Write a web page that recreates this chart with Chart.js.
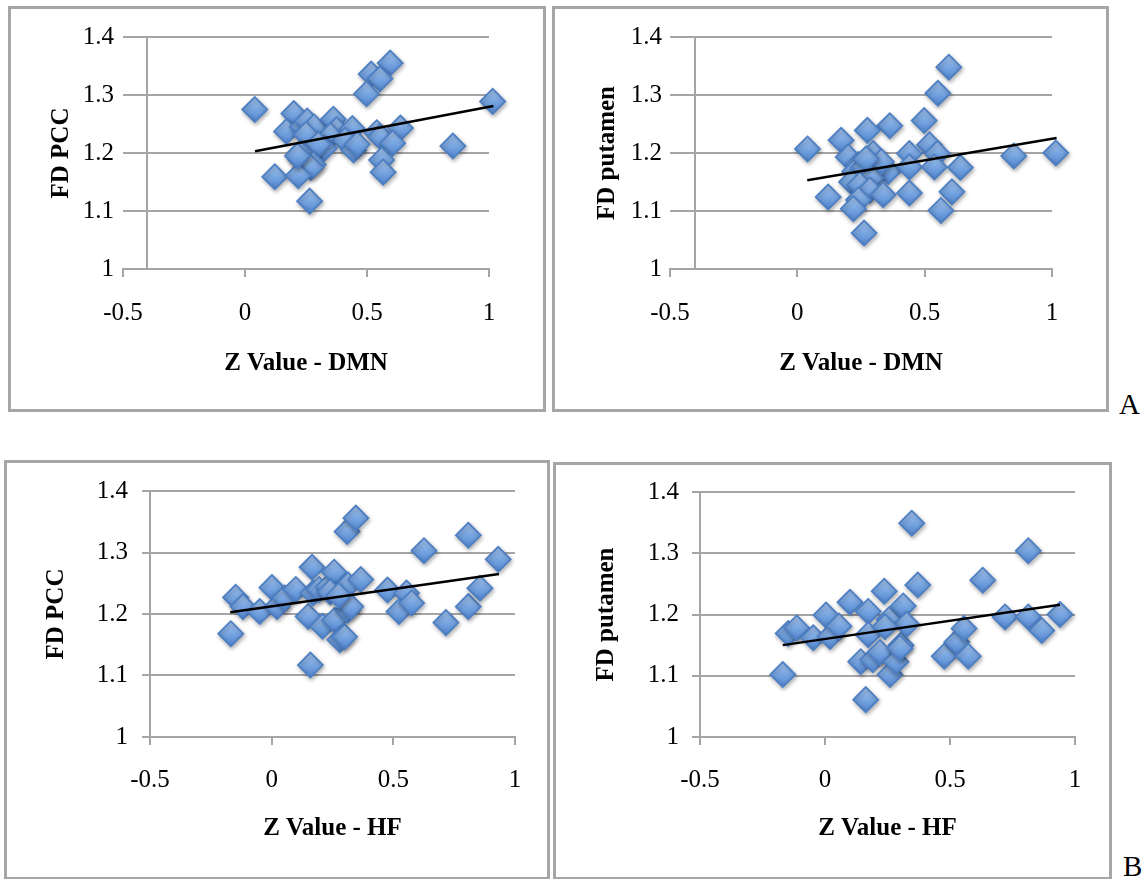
<!DOCTYPE html>
<html>
<head>
<meta charset="utf-8">
<script src="https://cdn.jsdelivr.net/npm/chart.js@4.4.1/dist/chart.umd.min.js"></script>
<style>
  html, body { margin: 0; padding: 0; background: #fff; }
  #page { position: relative; width: 1148px; height: 879px; overflow: hidden; }
  .frame { position: absolute; border: 3px solid #a6a6a6; box-sizing: border-box; pointer-events: none; }
  canvas { position: absolute; }
  .tag { position: absolute; font-family: 'Liberation Serif', serif; font-size: 29px; line-height: 29px; color: #000; }
</style>
</head>
<body>
<div id="page">
  <canvas id="pccDmnChart" width="536" height="404" style="left:9px;top:7px"></canvas>
  <canvas id="putDmnChart" width="555" height="404" style="left:553px;top:7px"></canvas>
  <canvas id="pccHfChart" width="544" height="418" style="left:5px;top:461px"></canvas>
  <canvas id="putHfChart" width="557" height="416" style="left:554px;top:463px"></canvas>

  <div class="frame" style="left:8px;top:6px;width:538px;height:406px"></div>
  <div class="frame" style="left:552px;top:6px;width:557px;height:406px"></div>
  <div class="frame" style="left:4px;top:460px;width:546px;height:420px"></div>
  <div class="frame" style="left:553px;top:462px;width:559px;height:418px"></div>

  <div class="tag" style="left:1119px;top:390px">A</div>
  <div class="tag" style="left:1123px;top:852px">B</div>
</div>

<script>
// axis ranges shared by all four panels
const xRange = [-0.5, 1];
const yRange = [1, 1.4];
const xStep = 0.5;
const yStep = 0.1;

// [Z value, FD] pairs
const pccDmn = [
  [0.04, 1.275], [1.015, 1.289], [0.595, 1.355], [0.517, 1.336], [0.553, 1.328], [0.498, 1.302],
  [0.200, 1.268], [0.170, 1.237], [0.235, 1.245], [0.255, 1.255], [0.283, 1.245], [0.250, 1.232],
  [0.362, 1.258], [0.375, 1.240], [0.350, 1.230], [0.440, 1.242], [0.410, 1.222], [0.540, 1.235],
  [0.555, 1.228], [0.637, 1.243], [0.605, 1.217], [0.852, 1.212], [0.445, 1.205], [0.325, 1.208],
  [0.300, 1.215], [0.225, 1.200], [0.230, 1.188], [0.280, 1.180], [0.270, 1.175], [0.560, 1.188],
  [0.566, 1.167], [0.122, 1.159], [0.218, 1.161], [0.265, 1.117], [0.215, 1.195], [0.460, 1.215]
];
const putDmn = [
  [0.04, 1.207], [1.015, 1.200], [0.850, 1.195], [0.595, 1.348], [0.552, 1.303], [0.498, 1.256],
  [0.363, 1.247], [0.275, 1.239], [0.172, 1.222], [0.519, 1.214], [0.550, 1.199], [0.440, 1.199],
  [0.298, 1.199], [0.200, 1.193], [0.240, 1.180], [0.225, 1.168], [0.260, 1.175], [0.310, 1.165],
  [0.357, 1.168], [0.440, 1.176], [0.538, 1.176], [0.640, 1.175], [0.213, 1.150], [0.292, 1.158],
  [0.245, 1.145], [0.121, 1.124], [0.285, 1.136], [0.337, 1.128], [0.440, 1.131], [0.607, 1.133],
  [0.240, 1.119], [0.220, 1.104], [0.564, 1.101], [0.262, 1.062], [0.330, 1.185], [0.270, 1.190]
];
const pccHf = [
  [-0.168, 1.168], [-0.148, 1.227], [-0.118, 1.212], [-0.049, 1.204], [0.001, 1.243], [0.022, 1.212],
  [0.053, 1.226], [0.099, 1.240], [0.166, 1.276], [0.150, 1.196], [0.159, 1.117], [0.170, 1.234],
  [0.195, 1.240], [0.209, 1.180], [0.232, 1.244], [0.257, 1.268], [0.259, 1.190], [0.280, 1.158],
  [0.300, 1.163], [0.310, 1.334], [0.346, 1.356], [0.314, 1.247], [0.312, 1.206], [0.325, 1.212],
  [0.366, 1.256], [0.476, 1.239], [0.554, 1.234], [0.523, 1.204], [0.575, 1.218], [0.626, 1.303],
  [0.716, 1.186], [0.808, 1.328], [0.808, 1.212], [0.856, 1.242], [0.931, 1.289], [0.240, 1.236],
  [0.275, 1.230]
];
const putHf = [
  [-0.169, 1.102], [-0.147, 1.169], [-0.113, 1.178], [-0.047, 1.162], [0.004, 1.199], [0.020, 1.164],
  [0.056, 1.181], [0.100, 1.220], [0.143, 1.123], [0.163, 1.061], [0.173, 1.205], [0.173, 1.167],
  [0.191, 1.126], [0.220, 1.138], [0.237, 1.238], [0.257, 1.192], [0.260, 1.102], [0.284, 1.123],
  [0.304, 1.150], [0.313, 1.214], [0.327, 1.184], [0.347, 1.349], [0.371, 1.248], [0.477, 1.132],
  [0.527, 1.155], [0.556, 1.177], [0.573, 1.132], [0.631, 1.256], [0.720, 1.196], [0.813, 1.304],
  [0.813, 1.196], [0.867, 1.174], [0.940, 1.200], [0.300, 1.145], [0.240, 1.180]
];

// trend line end points as drawn in each panel
const pccDmnTrend = [[0.041, 1.203], [1.018, 1.281]];
const putDmnTrend = [[0.039, 1.153], [1.018, 1.226]];
const pccHfTrend = [[-0.170, 1.203], [0.934, 1.265]];
const putHfTrend = [[-0.169, 1.150], [0.940, 1.216]];

const GRID = '#a5a5a5';
const SERIF = "'Liberation Serif', 'Times New Roman', serif";

function toXY(pairs) {
  return pairs.map(p => ({ x: p[0], y: p[1] }));
}

// Excel-style tick text: 1, 1.1, -0.5, 0 ...
function shortNum(v) {
  return String(Math.round(v * 10) / 10);
}

// light-to-dark blue fill, like the bevelled Excel markers
function diamondFill(c) {
  const chart = c.chart;
  const p = c.raw;
  const flat = '#72a2de';
  if (!p || !chart.scales || !chart.scales.y) return flat;
  const y = chart.scales.y.getPixelForValue(p.y);
  if (!Number.isFinite(y)) return flat;
  const g = chart.ctx.createLinearGradient(0, y - 12, 0, y + 12);
  g.addColorStop(0, '#a8c8f1');
  g.addColorStop(0.5, '#78a6e2');
  g.addColorStop(1, '#5286d0');
  return g;
}

const markShadow = {
  id: 'markShadow',
  beforeDatasetDraw(chart, args) {
    if (args.index !== 1) return;
    const ctx = chart.ctx;
    ctx.save();
    ctx.shadowColor = 'rgba(0,0,0,0.3)';
    ctx.shadowBlur = 4;
    ctx.shadowOffsetX = 1;
    ctx.shadowOffsetY = 2;
  },
  afterDatasetDraw(chart, args) {
    if (args.index !== 1) return;
    chart.ctx.restore();
  }
};

function makePanel(id, points, trend, xTitle, yTitle, lay) {
  const scales = {
    x: {
      type: 'linear',
      min: xRange[0],
      max: xRange[1],
      afterFit(s) { s.height = lay.xH; },
      ticks: { stepSize: xStep, padding: lay.xTickPad, color: '#000', font: { family: SERIF, size: 25 }, callback: shortNum },
      grid: { drawOnChartArea: false, drawTicks: true, tickLength: 8, color: GRID, lineWidth: 2 },
      border: { display: true, color: GRID, width: 2 },
      title: {
        display: true, text: xTitle, color: '#000',
        font: { family: SERIF, size: 25, weight: 'bold' },
        padding: { top: 0, bottom: lay.xTitlePad }
      }
    },
    y: {
      type: 'linear',
      min: yRange[0],
      max: yRange[1],
      afterFit(s) { s.width = lay.yW; },
      ticks: { stepSize: yStep, padding: lay.yTickPad, color: '#000', font: { family: SERIF, size: 25 }, callback: shortNum },
      grid: { color: GRID, lineWidth: 2, drawTicks: lay.yTicks, tickLength: 8 },
      border: { display: !lay.cross, color: GRID, width: 2 },
      title: {
        display: true, text: yTitle, color: '#000',
        font: { family: SERIF, size: 25, weight: 'bold' },
        padding: { top: lay.yTitlePad, bottom: 0 }
      }
    }
  };
  // top panels: vertical axis crosses the x axis at -0.4
  if (lay.cross) {
    scales.yCross = {
      type: 'linear', axis: 'y', position: { x: -0.4 },
      min: yRange[0], max: yRange[1],
      ticks: { display: false },
      grid: { display: false },
      border: { display: true, color: GRID, width: 2 }
    };
  }

  return new Chart(document.getElementById(id), {
    type: 'scatter',
    data: {
      datasets: [
        {
          label: 'Linear trend',
          data: toXY(trend),
          showLine: true,
          borderColor: '#000',
          borderWidth: 2.5,
          pointRadius: 0,
          clip: false,
          order: 0
        },
        {
          label: yTitle,
          data: toXY(points),
          pointStyle: 'rectRot',
          pointRadius: 12.5,
          borderWidth: 1.8,
          borderColor: '#4d7fc4',
          backgroundColor: diamondFill,
          clip: false,
          order: 1
        }
      ]
    },
    options: {
      responsive: false,
      animation: false,
      devicePixelRatio: 1,
      layout: { padding: { left: 0, right: lay.padR, top: lay.padT, bottom: 0 } },
      plugins: { legend: { display: false }, tooltip: { enabled: false } },
      scales: scales
    },
    plugins: [markShadow]
  });
}

makePanel('pccDmnChart', pccDmn, pccDmnTrend, 'Z Value - DMN', 'FD PCC',
  { padR: 56, padT: 30, yW: 114, xH: 142, yTickPad: 9, yTicks: false, yTitlePad: 38, xTickPad: 21, xTitlePad: 32, cross: true });
makePanel('putDmnChart', putDmn, putDmnTrend, 'Z Value - DMN', 'FD putamen',
  { padR: 56, padT: 30, yW: 117, xH: 142, yTickPad: 8, yTicks: false, yTitlePad: 40, xTickPad: 21, xTitlePad: 32, cross: true });
makePanel('pccHfChart', pccHf, pccHfTrend, 'Z Value - HF', 'FD PCC',
  { padR: 34, padT: 30, yW: 145, xH: 142, yTickPad: 14, yTicks: true, yTitlePad: 37, xTickPad: 20, xTitlePad: 35, cross: false });
makePanel('putHfChart', putHf, putHfTrend, 'Z Value - HF', 'FD putamen',
  { padR: 36, padT: 29, yW: 146, xH: 142, yTickPad: 13, yTicks: true, yTitlePad: 38, xTickPad: 20, xTitlePad: 35, cross: false });
</script>
</body>
</html>
